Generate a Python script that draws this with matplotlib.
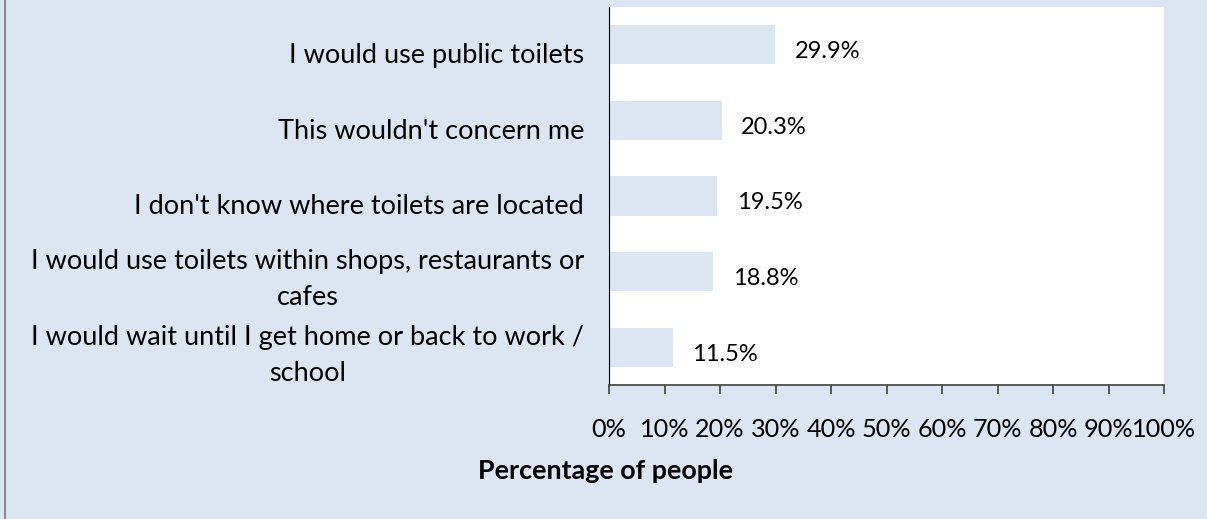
import matplotlib
matplotlib.use('Agg')
import matplotlib.pyplot as plt
import matplotlib.transforms as mtransforms
from matplotlib.patches import Rectangle

plt.rcParams['font.family'] = ['Lato', 'DejaVu Sans']

categories = [
    'I would use public toilets',
    "This wouldn't concern me",
    "I don't know where toilets are located",
    'I would use toilets within shops, restaurants or\ncafes',
    'I would wait until I get home or back to work /\nschool',
]
values = [29.9, 20.3, 19.5, 18.8, 11.5]
value_labels = ['29.9%', '20.3%', '19.5%', '18.8%', '11.5%']
xticks = list(range(0, 101, 10))
xtick_labels = [str(t) + '%' for t in xticks]

bg = '#dce6f2'
bar_color = '#dce6f3'

W, H = 1207, 519
fig = plt.figure(figsize=(W / 100, H / 100), dpi=100)
fig.patch.set_facecolor(bg)

# plot area in pixels: left 609, right 1164, top 7, bottom 385
ax = fig.add_axes([609 / W, 1 - 385 / H, (1164 - 609) / W, (385 - 7) / H])
ax.set_facecolor('white')

ypos = list(range(len(categories)))
ax.barh(ypos, values, height=0.52, color=bar_color, edgecolor='none')
for y, v, lab in zip(ypos, values, value_labels):
    ax.annotate(lab, (v, y), xytext=(14, -5), textcoords='offset points',
                va='center', ha='left', fontsize=17, color='black')

ax.set_xlim(0, 100)
ax.set_ylim(len(categories) - 0.5, -0.5)
ax.set_yticks(ypos)
ax.set_yticklabels(categories, fontsize=19.5, multialignment='center',
                   linespacing=1.55)
ax.tick_params(axis='y', length=0, pad=18)
# one-line labels sit a little below the bar centres in the original
for t in ax.get_yticklabels():
    dy = 0 if '\n' in t.get_text() else -6
    shift = mtransforms.ScaledTranslation(0, dy / 72, fig.dpi_scale_trans)
    t.set_transform(t.get_transform() + shift)

ax.set_xticks(xticks)
ax.set_xticklabels(xtick_labels, fontsize=18.2)
ax.tick_params(axis='x', direction='out', length=6.5, width=1.2, color='#404040', pad=17)

for s in ['top', 'right']:
    ax.spines[s].set_visible(False)
ax.spines['left'].set_color('black')
ax.spines['bottom'].set_color('#404040')
ax.spines['bottom'].set_linewidth(1.2)

fig.text(606 / W, 1 - 471 / H, 'Percentage of people', ha='center', va='center',
         fontsize=19.4, fontweight='bold')

# grey frame line on the left edge
fig.add_artist(Rectangle((4.5 / W, 0), 0, 1, transform=fig.transFigure,
                         edgecolor='#8c8c8c', linewidth=1.5, fill=False))

fig.savefig('out.png', dpi=100, facecolor=bg)
